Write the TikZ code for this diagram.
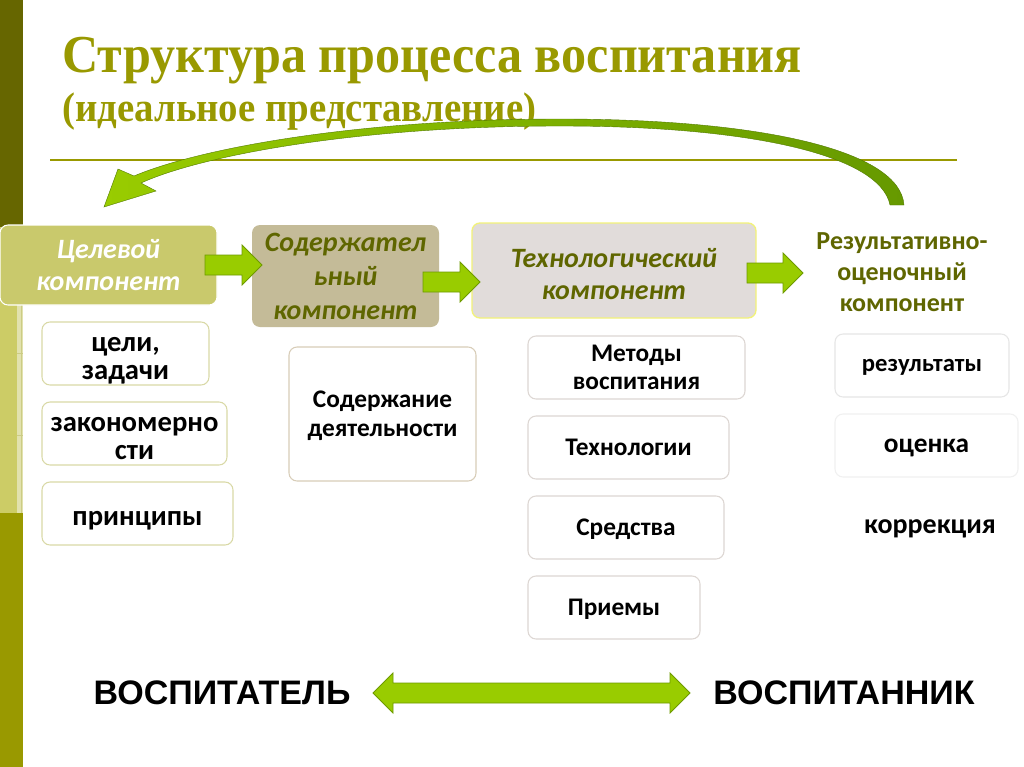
\documentclass[tikz,border=0pt]{standalone}
\usepackage{fontspec}
\setmainfont{Carlito}
\newfontfamily\titlefont[FakeStretch=0.94]{Liberation Serif}
\newfontfamily\arialfont{Liberation Sans}
\usetikzlibrary{calc}
\definecolor{darkolive}{HTML}{666600}
\definecolor{lightolive}{HTML}{CCCC66}
\definecolor{paleolive}{HTML}{E2E2AE}
\definecolor{olive}{HTML}{999900}
\definecolor{boxolive}{HTML}{C9C96C}
\definecolor{tan}{HTML}{C4BB98}
\definecolor{greybox}{HTML}{E1DCDA}
\definecolor{yellowline}{HTML}{F2F27A}
\definecolor{textolive}{HTML}{5F6600}
\definecolor{arrowgreen}{HTML}{99CC00}
\definecolor{arrowedge}{HTML}{6E9A00}
\definecolor{arrowdark}{HTML}{669900}
\definecolor{bcol1}{HTML}{D9D9A6}
\definecolor{bcol2}{HTML}{D8CDB8}
\definecolor{bcol3}{HTML}{DDD7D3}
\definecolor{bcol4}{HTML}{E6E6E6}
\tikzset{
  wh/.style 2 args={minimum width=#1*0.75pt, minimum height=#2*0.75pt},
  compbox/.style={rounded corners=6pt, inner sep=0pt, align=center,
    font=\fontsize{21}{24}\selectfont\bfseries\itshape},
  subbox/.style={rounded corners=6pt, fill=white, line width=0.8pt, inner sep=0pt,
    align=center, text=black, text depth=0pt},
  coltext/.style={inner sep=0pt, align=center, text=black, text depth=0pt,
    yshift=-3.6pt, font=\fontsize{21.5}{21}\selectfont\bfseries},
  blockarrow/.style={fill=arrowgreen, draw=arrowedge, line width=0.6pt, line join=miter},
}
\newcommand\rblock[2]{%
  \path[blockarrow] ($(#1)+(0,-10)$) -- ($(#2)+(-20,-10)$) -- ($(#2)+(-20,-20)$) -- (#2)
    -- ($(#2)+(-20,20)$) -- ($(#2)+(-20,10)$) -- ($(#1)+(0,10)$) -- cycle;}
\begin{document}
\begin{tikzpicture}[x=0.75pt,y=-0.75pt]
\useasboundingbox (0,0) rectangle (1024,767);
\fill[white] (0,0) rectangle (1024,767);
% left bar
\fill[darkolive] (0,0) rectangle (23,227);
\fill[lightolive] (0,227) rectangle (23,513);
\fill[paleolive] (17,300) rectangle (23,513);
\draw[bcol1!80!olive, line width=0.6pt] (21,300) -- (21,513)
  (17,353) -- (23,353) (17,435) -- (23,435) (17,513) -- (23,513);
\fill[olive] (0,513) rectangle (23,767);
% title
\node[anchor=base west, text=olive, inner sep=0pt] (t1) at (62,73)
  {\titlefont\bfseries\fontsize{40}{40}\selectfont Структура процесса воспитания};
\node[anchor=base west, text=olive, inner sep=0pt] (t2) at (62,121)
  {\titlefont\bfseries\fontsize{31}{31}\selectfont (идеальное представление)};
\draw[olive, line width=1.5pt] (50,160) -- (957,160);
% components
\node[compbox, wh={217}{80}, fill=boxolive, draw=white, line width=0.8pt, text=white] (c1) at (108.5,265) {Целевой\\компонент};
\node[compbox, wh={187}{102}, fill=tan, text=textolive, font=\fontsize{21}{25.5}\selectfont\bfseries\itshape] (c2) at (345.5,276) {Содержател\\ьный\\компонент};
\node[compbox, wh={284}{95}, fill=greybox, draw=yellowline, line width=1pt,
  label={[compbox, text=textolive, yshift=-2.6pt]center:{Технологический\\компонент}}] (c3) at (614,270.5) {};
\node[align=center, text=textolive, inner sep=0pt, font=\fontsize{19.5}{23.5}\selectfont\bfseries] (c4) at (902,272) {Результативно-\\оценочный\\компонент};
% block arrows
\coordinate (a1s) at (205,265); \coordinate (a1e) at (262,265);
\coordinate (a2s) at (423,282); \coordinate (a2e) at (480,282);
\coordinate (a3s) at (747,273); \coordinate (a3e) at (803,273);
\rblock{a1s}{a1e}
\rblock{a2s}{a2e}
\rblock{a3s}{a3e}
% sub boxes column 1
\node[subbox, draw=bcol1, wh={167}{63}, label={[coltext]center:{цели,\\задачи}}] (s1) at (125.5,353.5) {};
\node[subbox, draw=bcol1, wh={185}{63}, label={[coltext]center:{закономерно\\сти}}] (s2) at (134.5,433.5) {};
\node[subbox, draw=bcol1, wh={191}{63}, label={[coltext]center:{принципы}}] (s3) at (137.5,513.5) {};
% column 2
\node[subbox, draw=bcol2, wh={187}{134}, font=\fontsize{19}{21.5}\selectfont\bfseries] (s4) at (382.5,414) {Содержание\\деятельности};
% column 3
\node[subbox, draw=bcol3, wh={217}{63}, font=\fontsize{19}{21}\selectfont\bfseries] (s5) at (636.5,367.5) {Методы\\воспитания};
\node[subbox, draw=bcol3, wh={201}{63}, font=\fontsize{19}{21}\selectfont\bfseries] (s6) at (628.5,447.5) {Технологии};
\node[subbox, draw=bcol3, wh={196}{63}, font=\fontsize{19}{21}\selectfont\bfseries] (s7) at (626,527.5) {Средства};
\node[subbox, draw=bcol3, wh={172}{63}, font=\fontsize{19}{21}\selectfont\bfseries] (s8) at (614,607.5) {Приемы};
% column 4
\node[subbox, draw=bcol4, wh={174}{63}, font=\fontsize{18.5}{21}\selectfont\bfseries] (s9) at (922,365.5) {результаты};
\node[subbox, draw=bcol4!60!white, wh={183}{63}, font=\fontsize{20.5}{21}\selectfont\bfseries] (s10) at (926.5,445.5) {оценка};
\node[inner sep=0pt, text depth=0pt, font=\fontsize{21}{21}\selectfont\bfseries] (s11) at (930,527) {коррекция};
% curved feedback arrow
\path[left color=arrowgreen, right color=arrowdark, draw=arrowdark!80!black, line width=0.3pt]
  (904,205) .. controls (900,150) and (760,119) .. (560,119)
  .. controls (360,119) and (200,148) .. (134,176)
  -- (118,169) -- (104,207) -- (156,191) -- (141,183)
  .. controls (205,154) and (365,126) .. (560,126)
  .. controls (750,126) and (880,155) .. (890,205) -- cycle;
% bottom
\node[inner sep=0pt, font=\arialfont\bfseries\fontsize{25.5}{26}\selectfont] (v1) at (222,693) {ВОСПИТАТЕЛЬ};
\node[inner sep=0pt, font=\arialfont\bfseries\fontsize{25.5}{26}\selectfont] (v2) at (844,693) {ВОСПИТАННИК};
\coordinate (d1) at (373,693); \coordinate (d2) at (690,693);
\path[blockarrow] (d1) -- ($(d1)+(20,-20)$) -- ($(d1)+(20,-10)$) -- ($(d2)+(-20,-10)$)
  -- ($(d2)+(-20,-20)$) -- (d2) -- ($(d2)+(-20,20)$) -- ($(d2)+(-20,10)$)
  -- ($(d1)+(20,10)$) -- ($(d1)+(20,20)$) -- cycle;
\end{tikzpicture}
\end{document}
